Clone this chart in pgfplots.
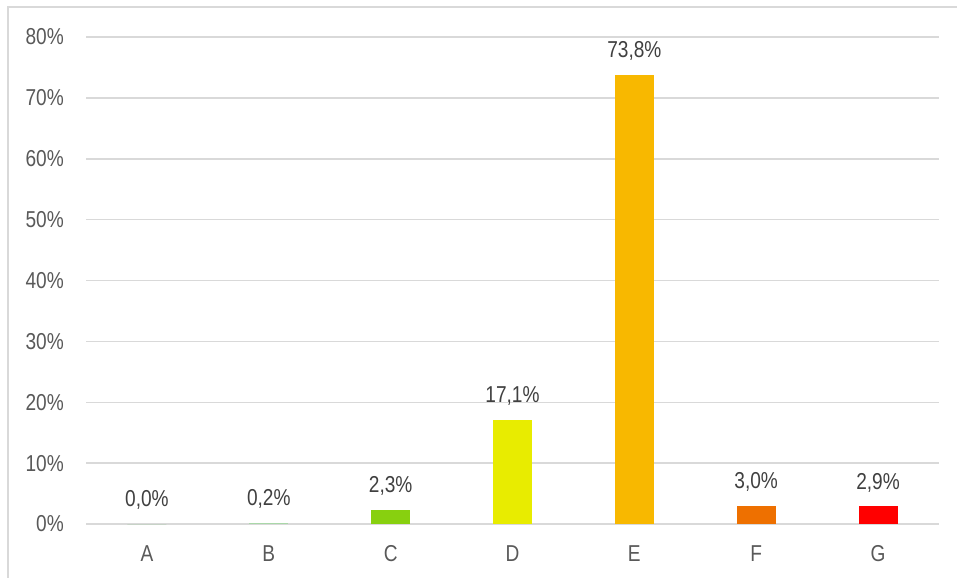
\documentclass[border=0pt]{standalone}
\usepackage{fontspec}
\setmainfont{Liberation Sans}[FakeStretch=0.83]
\usepackage{pgfplots}
\pgfplotsset{compat=1.18}
\definecolor{gridc}{HTML}{D9D9D9}
\definecolor{tickc}{HTML}{595959}
\definecolor{labc}{HTML}{404040}
\definecolor{cA}{HTML}{4CAF50}
\definecolor{cB}{HTML}{A9D8A8}
\definecolor{cC}{HTML}{88D00F}
\definecolor{cD}{HTML}{E8EC00}
\definecolor{cE}{HTML}{F8B800}
\definecolor{cF}{HTML}{EE7000}
\definecolor{cG}{HTML}{FF0000}
\begin{document}
\begin{tikzpicture}[font=\fontsize{23bp}{27bp}\selectfont]
\path[use as bounding box] (0,0) rectangle (957bp,578bp);
\draw[gridc, line width=1.5bp] (8bp,-10bp) rectangle (970bp,571bp);
\begin{axis}[
  at={(86bp,54bp)}, anchor=south west,
  scale only axis, width=853bp, height=487bp,
  xmin=-0.5, xmax=6.5, ymin=0, ymax=80,
  ytick={0,10,...,80},
  yticklabel={\pgfmathprintnumber{\tick}\%},
  xtick={0,...,6}, xticklabels={A,B,C,D,E,F,G},
  /pgf/number format/assume math mode=true,
  axis line style={draw=none},
  major tick length=0,
  ymajorgrids, grid style={gridc, line width=1.5bp},
  yticklabel style={anchor=east, inner sep=0pt, xshift=-22bp, text=tickc},
  xticklabel style={anchor=north, inner sep=0pt, yshift=-21bp, text=tickc},
  ybar, bar width=39bp, bar shift=0pt,
  nodes near coords={\pgfmathprintnumber[fixed, fixed zerofill, precision=1, use comma]{\pgfplotspointmeta}\%},
  every node near coord/.style={anchor=south, inner sep=0pt, text depth=0pt, yshift=17bp, text=labc},
  clip=false,
]
\addplot[draw=none, fill=cA] coordinates {(0,0.0)};
\addplot[draw=none, fill=cB] coordinates {(1,0.2)};
\addplot[draw=none, fill=cC] coordinates {(2,2.3)};
\addplot[draw=none, fill=cD] coordinates {(3,17.1)};
\addplot[draw=none, fill=cE] coordinates {(4,73.8)};
\addplot[draw=none, fill=cF] coordinates {(5,3.0)};
\addplot[draw=none, fill=cG] coordinates {(6,2.9)};
\end{axis}
\end{tikzpicture}
\end{document}
